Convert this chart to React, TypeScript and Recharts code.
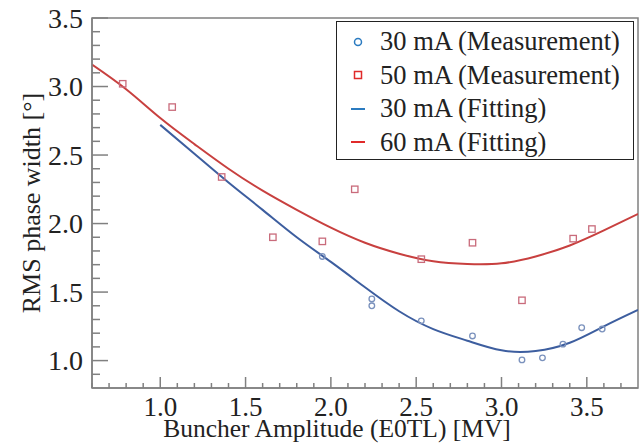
import React from 'react';
import {
  ComposedChart,
  Line,
  Scatter,
  XAxis,
  YAxis,
  ReferenceArea,
} from 'recharts';

const meas30X = [1.95, 2.24, 2.24, 2.53, 2.83, 3.12, 3.24, 3.36, 3.47, 3.59];
const meas30Y = [1.76, 1.45, 1.40, 1.29, 1.18, 1.005, 1.02, 1.12, 1.24, 1.23];
const meas50X = [0.78, 1.07, 1.36, 1.66, 1.95, 2.14, 2.53, 2.83, 3.12, 3.42, 3.53];
const meas50Y = [3.02, 2.85, 2.34, 1.90, 1.87, 2.25, 1.74, 1.86, 1.44, 1.89, 1.96];

// Fitted curves
const fit30X = [1.0, 1.2, 1.4, 1.6, 1.8, 2.0, 2.2, 2.4, 2.6, 2.8, 3.0, 3.2, 3.4, 3.6, 3.8];
const fit30Y = [2.72, 2.51, 2.30, 2.10, 1.90, 1.72, 1.535, 1.36, 1.23, 1.145, 1.075, 1.07, 1.13, 1.25, 1.37];
const fit60X = [0.6, 0.8, 1.0, 1.2, 1.4, 1.6, 1.8, 2.0, 2.2, 2.4, 2.6, 2.8, 3.0, 3.2, 3.4, 3.6, 3.8];
const fit60Y = [3.16, 2.98, 2.77, 2.58, 2.40, 2.24, 2.10, 1.97, 1.86, 1.78, 1.725, 1.705, 1.71, 1.76, 1.84, 1.95, 2.07];

const xTicks = [
  0.6, 0.7, 0.8, 0.9, 1.0, 1.1, 1.2, 1.3, 1.4, 1.5, 1.6, 1.7, 1.8, 1.9, 2.0, 2.1, 2.2, 2.3, 2.4, 2.5,
  2.6, 2.7, 2.8, 2.9, 3.0, 3.1, 3.2, 3.3, 3.4, 3.5, 3.6, 3.7,
];
const yTicks = [
  0.9, 1.0, 1.1, 1.2, 1.3, 1.4, 1.5, 1.6, 1.7, 1.8, 1.9, 2.0, 2.1, 2.2, 2.3, 2.4, 2.5,
  2.6, 2.7, 2.8, 2.9, 3.0, 3.1, 3.2, 3.3, 3.4, 3.5,
];

const legendLabels = [
  '30 mA (Measurement)',
  '50 mA (Measurement)',
  '30 mA (Fitting)',
  '60 mA (Fitting)',
];

const zip = (xs: number[], ys: number[]) => xs.map((x, i) => ({ x, y: ys[i] }));
const meas30 = zip(meas30X, meas30Y);
const meas50 = zip(meas50X, meas50Y);
const fit30 = zip(fit30X, fit30Y);
const fit60 = zip(fit60X, fit60Y);

const FONT = 'Liberation Serif, DejaVu Serif, Times New Roman, serif';
const AXIS = '#808080';

const isMajor = (v: number) => Math.abs(Math.round(v * 10) % 5) === 0;

const YTick = (props: any) => {
  const { x, y, payload } = props;
  const v = payload.value;
  const major = isMajor(v);
  return (
    <g>
      <line x1={x} x2={x + (major ? 16 : 8)} y1={y} y2={y} stroke={AXIS} strokeWidth={1.5} />
      {major && (
        <text x={x - 9} y={y} dy="0.35em" textAnchor="end" fontSize={28} fill="#222" style={{ fontFamily: FONT }}>
          {v.toFixed(1)}
        </text>
      )}
    </g>
  );
};

const XTick = (props: any) => {
  const { x, y, payload } = props;
  const v = payload.value;
  const major = isMajor(v);
  return (
    <g>
      <line x1={x} x2={x} y1={y} y2={y - (major ? 11 : 5)} stroke={AXIS} strokeWidth={1.5} />
      {major && (
        <text x={x} y={y + 28} textAnchor="middle" fontSize={27} fill="#222" style={{ fontFamily: FONT }}>
          {v.toFixed(1)}
        </text>
      )}
    </g>
  );
};

const Circle = (props: any) => {
  const { cx, cy } = props;
  return <circle cx={cx} cy={cy} r={2.8} fill="none" stroke="#7b92bd" strokeWidth={1.3} />;
};

const Square = (props: any) => {
  const { cx, cy } = props;
  return <rect x={cx - 3.2} y={cy - 3.2} width={6.4} height={6.4} fill="none" stroke="#c96b7b" strokeWidth={1.3} />;
};

const LegendBox = () => {
  const icon = (i: number) => {
    if (i === 0) return <circle cx={11} cy={8} r={3.5} fill="none" stroke="#2b7bc0" strokeWidth={1.5} />;
    if (i === 1) return <rect x={7.5} y={4.5} width={7} height={7} fill="none" stroke="#e02a2a" strokeWidth={1.5} />;
    return <line x1={4} x2={18} y1={8} y2={8} stroke={i === 2 ? '#2b7bc0' : '#e02a2a'} strokeWidth={2} />;
  };
  return (
    <div
      style={{
        position: 'absolute',
        left: 336,
        top: 21,
        width: 298,
        height: 139,
        boxSizing: 'border-box',
        border: '1.5px solid #222',
        background: '#fff',
        paddingTop: 3,
        fontFamily: FONT,
        fontSize: 26.5,
        color: '#222',
      }}
    >
      {legendLabels.map((label, i) => (
        <div key={label} style={{ display: 'flex', alignItems: 'center', height: 33.5, whiteSpace: 'nowrap' }}>
          <svg width={22} height={16} style={{ marginLeft: 10, marginRight: 11 }}>
            {icon(i)}
          </svg>
          <span>{label}</span>
        </div>
      ))}
    </div>
  );
};

export default function App() {
  return (
    <div style={{ position: 'fixed', left: 0, top: 0, width: 642, height: 443, background: '#fff' }}>
      <ComposedChart width={642} height={443} margin={{ top: 18, right: 4, bottom: 5, left: 32 }}>
        <XAxis
          type="number"
          dataKey="x"
          domain={[0.6, 3.8]}
          ticks={xTicks}
          interval={0}
          allowDataOverflow
          height={50}
          tickSize={0}
          tickMargin={0}
          tick={<XTick />}
          tickLine={false}
          axisLine={{ stroke: AXIS, strokeWidth: 1.5 }}
          label={(p: any) => {
            const vb = p.viewBox;
            return (
              <text
                x={vb.x + vb.width / 2 - 28}
                y={vb.y + 49}
                textAnchor="middle"
                fontSize={25.5}
                fill="#222"
                style={{ fontFamily: FONT }}
              >
                Buncher Amplitude (E0TL) [MV]
              </text>
            );
          }}
        />
        <YAxis
          type="number"
          dataKey="y"
          domain={[0.8, 3.5]}
          ticks={yTicks}
          interval={0}
          allowDataOverflow
          width={60}
          tickSize={0}
          tickMargin={0}
          tick={<YTick />}
          tickLine={false}
          axisLine={{ stroke: AXIS, strokeWidth: 1.5 }}
          label={(p: any) => {
            const vb = p.viewBox;
            const cx = vb.x + vb.width - 52;
            const cy = vb.y + vb.height / 2;
            return (
              <text
                x={cx}
                y={cy}
                transform={`rotate(-90 ${cx} ${cy})`}
                textAnchor="middle"
                fontSize={26}
                fill="#222"
                style={{ fontFamily: FONT }}
              >
                RMS phase width [°]
              </text>
            );
          }}
        />
        <ReferenceArea x1={0.6} x2={3.8} y1={0.8} y2={3.5} fill="none" stroke={AXIS} strokeWidth={1.5} />
        <Line
          data={fit30}
          dataKey="y"
          type="natural"
          stroke="#3d5e9f"
          strokeWidth={2}
          dot={false}
          name={legendLabels[2]}
          isAnimationActive={false}
        />
        <Line
          data={fit60}
          dataKey="y"
          type="natural"
          stroke="#c8403f"
          strokeWidth={2}
          dot={false}
          name={legendLabels[3]}
          isAnimationActive={false}
        />
        <Scatter data={meas30} dataKey="y" shape={<Circle />} name={legendLabels[0]} isAnimationActive={false} />
        <Scatter data={meas50} dataKey="y" shape={<Square />} name={legendLabels[1]} isAnimationActive={false} />
      </ComposedChart>
      <LegendBox />
    </div>
  );
}
